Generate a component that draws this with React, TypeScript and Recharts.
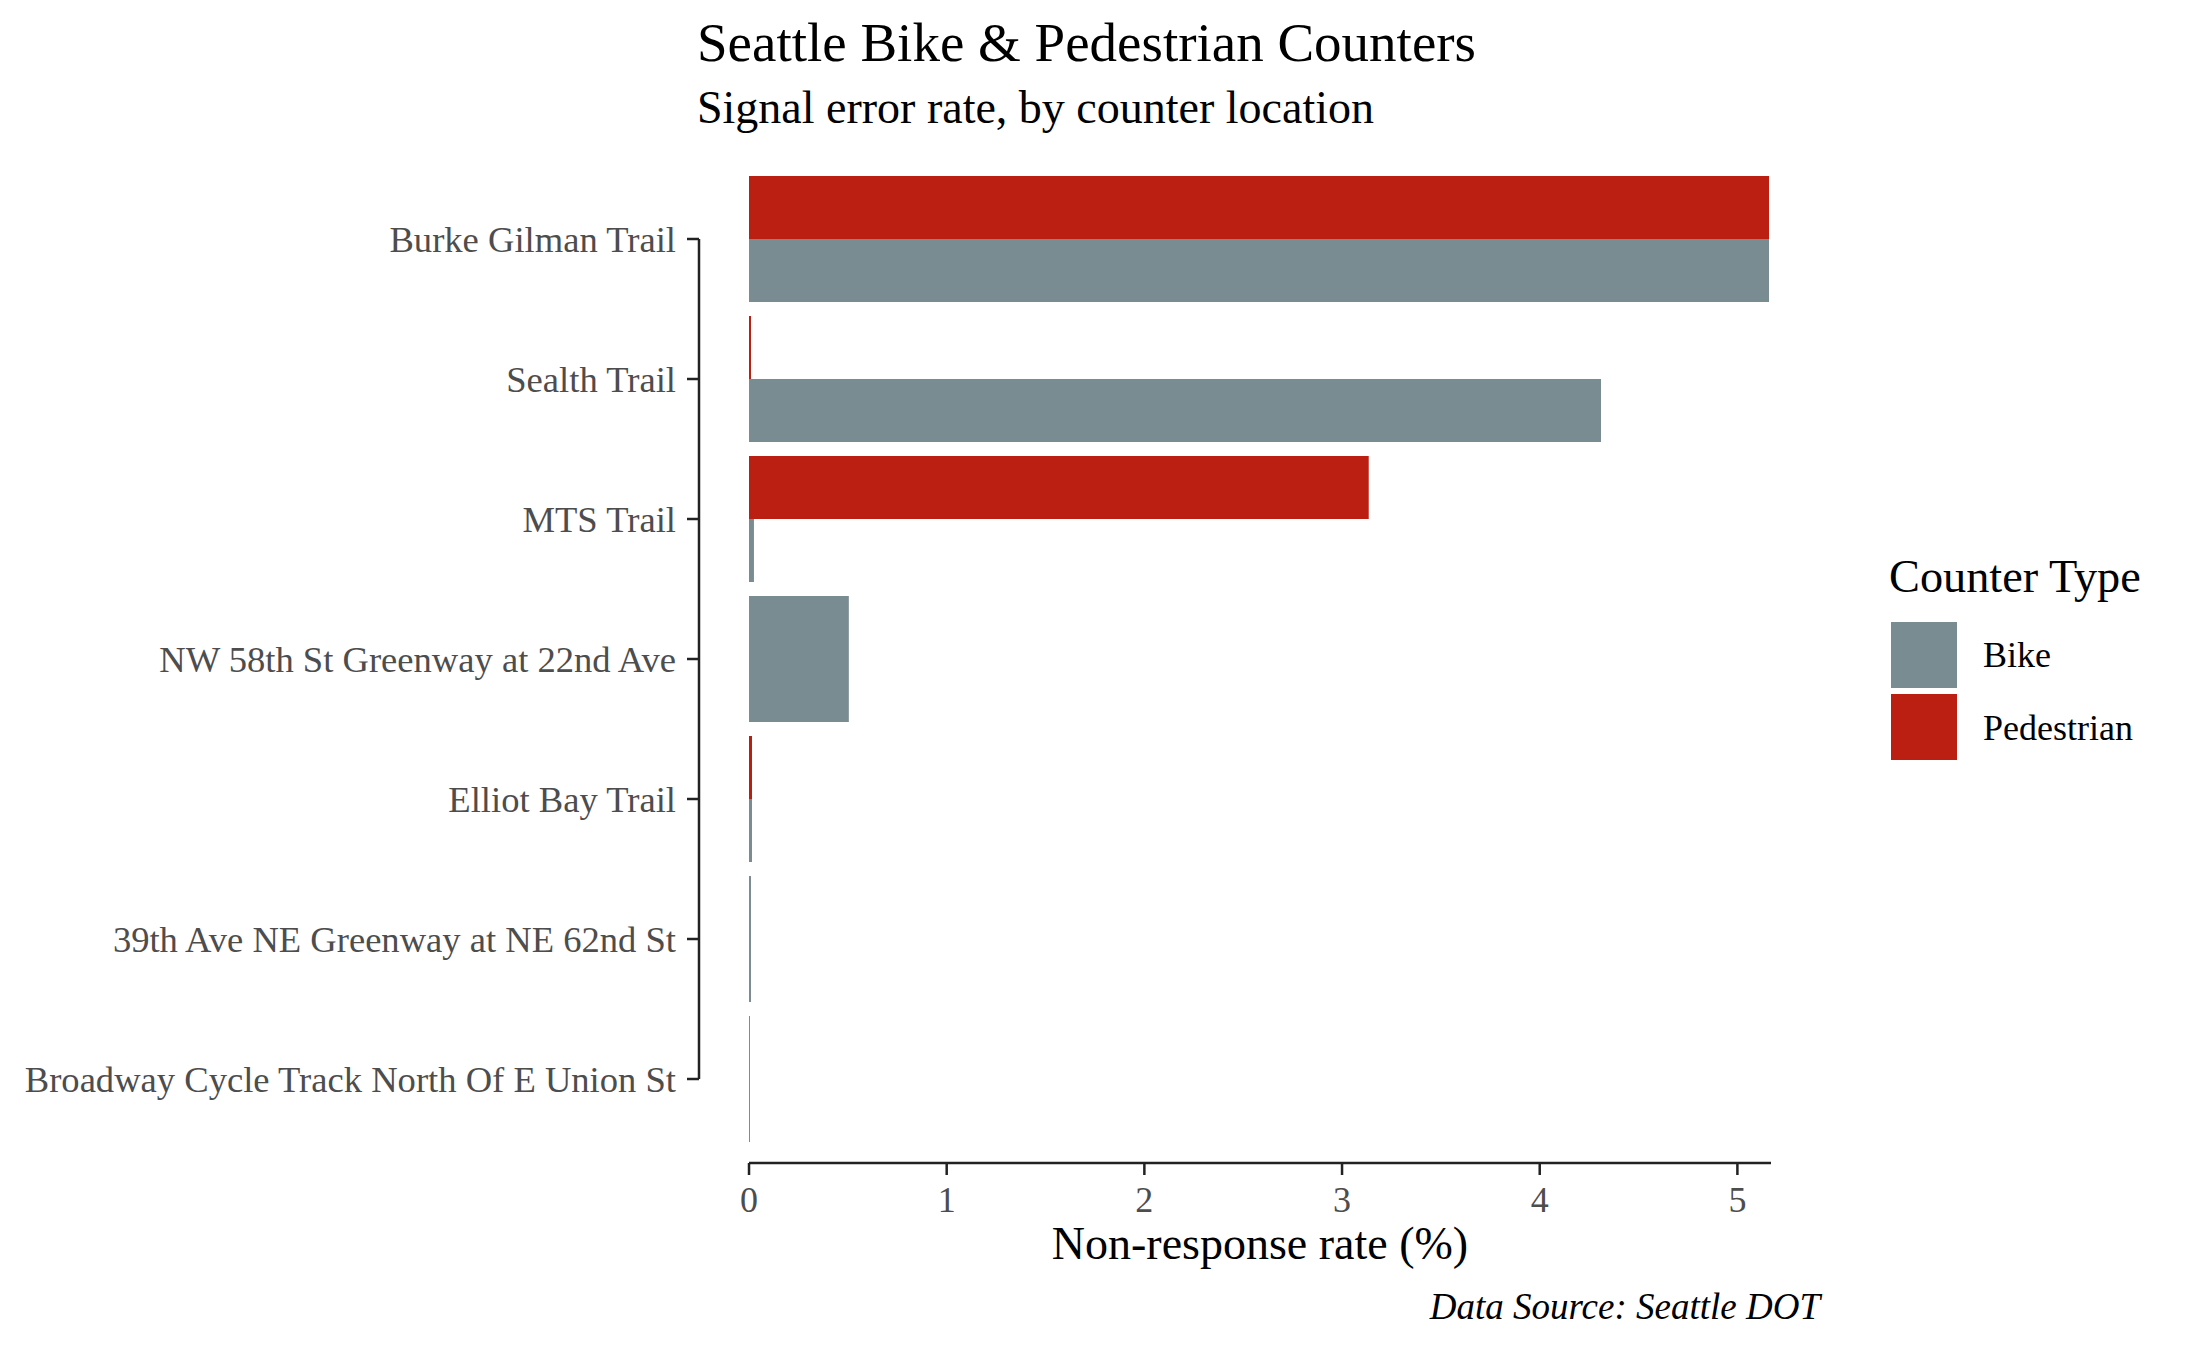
import React from 'react';
import { BarChart, Bar, XAxis, YAxis, ReferenceLine } from 'recharts';

// counter locations, top to bottom
const locations = [
  'Burke Gilman Trail',
  'Sealth Trail',
  'MTS Trail',
  'NW 58th St Greenway at 22nd Ave',
  'Elliot Bay Trail',
  '39th Ave NE Greenway at NE 62nd St',
  'Broadway Cycle Track North Of E Union St',
];
// non-response rate (%) where a location has both counter types
const bikeRate = [5.16, 4.31, 0.025, null, 0.015, null, null];
const pedestrianRate = [5.16, 0.01, 3.135, null, 0.015, null, null];
// locations with a bike counter only (bar fills the whole slot)
const bikeOnlyRate = [null, null, null, 0.505, null, 0.01, 0.005];

const xTicks = [0, 1, 2, 3, 4, 5];
const xMax = 5.17;
const xMin = -0.253;

const BIKE = '#798c91';
const PED = '#ba1f11';
const AXIS = '#222222';
const FONT = '"Liberation Serif", "Times New Roman", serif';

const data = locations.map((name, i) => ({
  name,
  ped: pedestrianRate[i],
  bike: bikeRate[i],
  bikeOnly: bikeOnlyRate[i],
}));

const yTickStyle = { fontSize: 36.6, fill: '#4d4d4d', fontFamily: FONT };
const xTickStyle = { fontSize: 36, fill: '#4d4d4d', fontFamily: FONT };

export default function App() {
  return (
    <div style={{ position: 'absolute', left: 0, top: 0, width: 2187, height: 1351, background: '#fff' }}>
      <BarChart
        width={2187}
        height={1351}
        data={data}
        layout="vertical"
        margin={{ top: 155, right: 416, bottom: 128, left: 0 }}
        barCategoryGap="5%"
        barGap={0}
      >
        <XAxis
          type="number"
          domain={[xMin, xMax]}
          allowDataOverflow
          ticks={xTicks}
          height={60}
          axisLine={false}
          tickLine={{ stroke: AXIS, strokeWidth: 2.5 }}
          tickSize={12}
          tickMargin={11}
          tick={xTickStyle}
        />
        <XAxis xAxisId="solo" type="number" domain={[xMin, xMax]} allowDataOverflow hide />
        <YAxis
          type="category"
          dataKey="name"
          width={699}
          padding={{ top: 14, bottom: 14 }}
          axisLine={false}
          tickLine={{ stroke: AXIS, strokeWidth: 2.5 }}
          tickSize={12}
          tickMargin={11}
          tick={yTickStyle}
          interval={0}
        />
        <YAxis yAxisId="solo" type="category" dataKey="name" padding={{ top: 14, bottom: 14 }} hide />
        {/* point scale spanning the full panel height, used for the bottom frame line */}
        <YAxis yAxisId="frame" type="category" dataKey="name" scale="point" hide />
        <Bar dataKey="ped" fill={PED} isAnimationActive={false} />
        <Bar dataKey="bike" fill={BIKE} isAnimationActive={false} />
        <Bar dataKey="bikeOnly" xAxisId="solo" yAxisId="solo" fill={BIKE} isAnimationActive={false} />
        <ReferenceLine
          segment={[{ x: xMin, y: locations[0] }, { x: xMin, y: locations[locations.length - 1] }]}
          stroke={AXIS}
          strokeWidth={2.5}
        />
        <ReferenceLine
          yAxisId="frame"
          segment={[{ x: 0, y: locations[locations.length - 1] }, { x: xMax, y: locations[locations.length - 1] }]}
          stroke={AXIS}
          strokeWidth={2.5}
        />
      </BarChart>
      <svg
        width={2187}
        height={1351}
        style={{ position: 'absolute', left: 0, top: 0, pointerEvents: 'none' }}
        fontFamily={FONT}
      >
        <text x={697} y={61} fontSize={55} fill="#000">Seattle Bike &amp; Pedestrian Counters</text>
        <text x={697} y={123} fontSize={46} fill="#000">Signal error rate, by counter location</text>
        <text x={1260} y={1259} fontSize={46} fill="#000" textAnchor="middle">Non-response rate (%)</text>
        <text x={1820} y={1319} fontSize={37} fill="#000" textAnchor="end" fontStyle="italic">Data Source: Seattle DOT</text>
        <text x={1889} y={592} fontSize={46.3} fill="#000">Counter Type</text>
        <rect x={1891} y={622} width={66} height={66} fill={BIKE} />
        <rect x={1891} y={694} width={66} height={66} fill={PED} />
        <text x={1983} y={667} fontSize={36} fill="#000">Bike</text>
        <text x={1983} y={740} fontSize={36} fill="#000">Pedestrian</text>
      </svg>
    </div>
  );
}
